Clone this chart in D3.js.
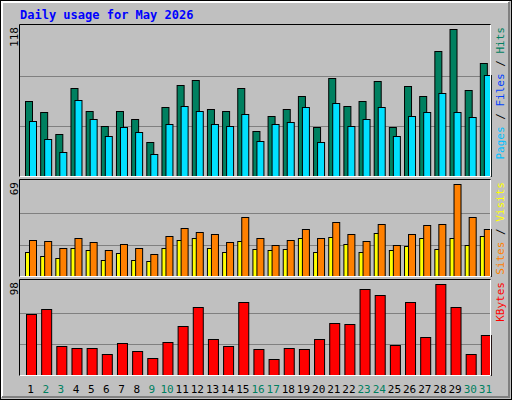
<!DOCTYPE html>
<html>
<head>
<meta charset="utf-8">
<script src="https://d3js.org/d3.v7.min.js"></script>
<style>
  body { margin: 0; background: #fff; }
  text { font-family: "DejaVu Sans Mono", monospace; }
</style>
</head>
<body>
<script>
// day numbers and daily values
var days = d3.range(1, 32);
var weekend = [2, 3, 9, 10, 16, 17, 23, 24, 30, 31];
var hits = [60, 51, 34, 71, 52, 40, 52, 46, 27, 55, 73, 77, 54, 52, 71, 36, 48, 54, 64, 39, 79, 56, 60, 76, 39, 72, 64, 100, 118, 69, 91];
var files = [44, 30, 19.5, 61, 46, 32, 39.5, 35, 18, 42, 56, 52, 42, 40, 50, 28, 42, 43.5, 55.5, 27, 59, 40, 46, 55.5, 32, 48, 51.5, 67, 51.5, 47, 81];
var sites = [27, 26, 21, 28.5, 25.5, 19.5, 24, 21, 16.5, 30, 36, 33, 31.5, 25.5, 44, 28.5, 23, 27, 35, 28.5, 40.5, 31.5, 26, 39, 23, 31.5, 38, 39, 69, 44, 35];
var visits = [18, 15, 13.5, 21, 19.5, 12, 17, 12, 11, 21, 27, 28.5, 21, 18, 26, 20, 19.5, 20, 28.5, 18, 29, 24, 18, 32, 19.5, 22.5, 28.5, 20, 28.5, 23, 30];
var kbytes = [66, 71, 31, 29, 29, 22.6, 34.5, 26, 18, 35.5, 53, 73, 39, 31, 78.6, 28, 17, 29, 28, 39, 56, 55, 92.6, 86, 32, 78.6, 41, 98, 73, 22.6, 43];

var W = 512, H = 400;
var svg = d3.select("body").append("svg").attr("width", W).attr("height", H);

// frame with bevel
svg.append("rect").attr("x", 0.5).attr("y", 0.5).attr("width", W - 1).attr("height", H - 1)
  .attr("fill", "#c0c0c0").attr("stroke", "#000");
svg.append("path").attr("d", "M2,397V2H509").attr("fill", "none").attr("stroke", "#fff").attr("stroke-width", 2);
svg.append("path").attr("d", "M2,397H509V2").attr("fill", "none").attr("stroke", "#808080").attr("stroke-width", 2);

svg.append("text").attr("x", 20).attr("y", 19).attr("fill", "#0000ff")
  .attr("font-weight", "bold").attr("font-size", 12).text("Daily usage for May 2026");

var left = 20, right = 490;
var x = d3.scaleBand().domain(days).range([left, right]);

function panel(top, bottom, max, series, labels) {
  var y = d3.scaleLinear().domain([0, max]).range([bottom, top + 4]);
  svg.append("rect").attr("x", left).attr("y", top).attr("width", right - left).attr("height", bottom - top)
    .attr("fill", "#c0c0c0");
  [0.34, 0.68].forEach(function (f) {
    svg.append("line").attr("x1", left).attr("x2", right)
      .attr("y1", Math.round(y(max * f)) + 0.5).attr("y2", Math.round(y(max * f)) + 0.5)
      .attr("stroke", "#808080");
  });
  series.forEach(function (s) {
    svg.append("g").selectAll("rect").data(s.data).join("rect")
      .attr("x", function (d, i) { return x(days[i]) + s.off + 0.5; })
      .attr("y", function (d) { return Math.round(y(d)) + 0.5; })
      .attr("width", s.w)
      .attr("height", function (d) { return bottom - Math.round(y(d)); })
      .attr("fill", s.color).attr("stroke", "#000");
  });
  svg.append("path").attr("d", "M" + left + "," + (bottom + 0.5) + "H" + (right + 0.5) + "V" + top)
    .attr("fill", "none").attr("stroke", "#fff");
  svg.append("path").attr("d", "M" + (left - 0.5) + "," + (bottom + 0.5) + "V" + (top - 0.5) + "H" + (right + 0.5))
    .attr("fill", "none").attr("stroke", "#000");
  svg.append("text").attr("transform", "translate(18," + (top + 2) + ") rotate(-90)")
    .attr("text-anchor", "end").attr("font-size", 11).attr("fill", "#000").text(max);
  // right label reads bottom to top, last item at the top
  var t = svg.append("text").attr("transform", "translate(504," + (top + 2) + ") rotate(-90)")
    .attr("text-anchor", "end").attr("font-size", 11);
  labels.forEach(function (l, i) {
    if (i) t.append("tspan").attr("fill", "#000").text(" / ");
    t.append("tspan").attr("fill", l[1]).text(l[0]);
  });
  return y;
}

panel(25, 176, 118,
  [{ data: hits, color: "#008060", off: 5, w: 7 }, { data: files, color: "#00e0ff", off: 9, w: 7 }],
  [["Pages", "#00c0ff"], ["Files", "#0040ff"], ["Hits", "#008060"]]);
panel(180, 276, 69,
  [{ data: visits, color: "#ffff00", off: 5, w: 7 }, { data: sites, color: "#ff8000", off: 9, w: 7 }],
  [["Sites", "#ff8000"], ["Visits", "#ffff00"]]);
panel(280, 375, 98,
  [{ data: kbytes, color: "#ff0000", off: 6, w: 10 }],
  [["KBytes", "#ff0000"]]);

svg.append("g").selectAll("text").data(days).join("text")
  .attr("x", function (d) { return x(d) + x.bandwidth() / 2 + 3; })
  .attr("y", 393).attr("text-anchor", "middle").attr("font-size", 11)
  .attr("fill", function (d) { return weekend.indexOf(d) >= 0 ? "#008060" : "#000"; })
  .text(function (d) { return d; });
</script>
</body>
</html>
